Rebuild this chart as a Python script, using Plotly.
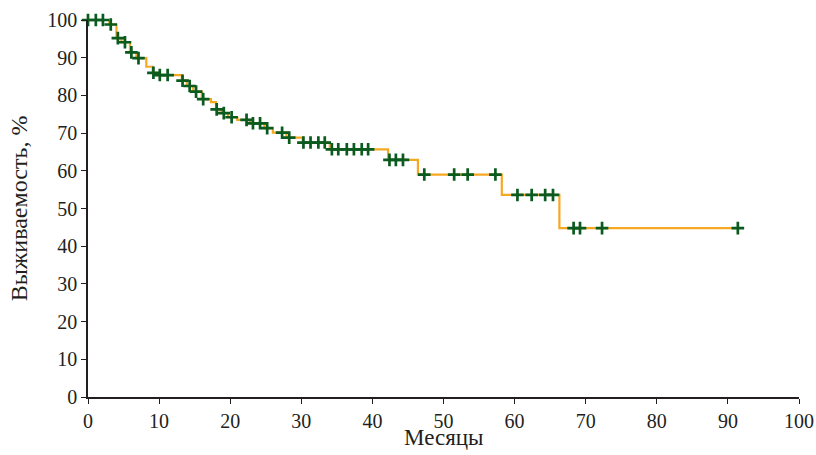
import numpy as np
import plotly.graph_objects as go

# Kaplan-Meier step curve: event times (months) and survival after each step (%)
step_t = [0, 3.0, 4.0, 4.7, 5.9, 6.8, 8.2, 9.1, 9.7, 13.2, 13.9, 14.8, 16.0, 17.3,
          18.0, 18.8, 19.7, 21.0, 22.8, 24.8, 26.0, 27.9, 30.2, 34.0, 42.2, 46.4,
          58.2, 66.3]
step_s = [100, 98.8, 95.2, 94.1, 91.4, 89.9, 87.6, 86.0, 85.4, 83.9, 82.5, 81.0,
          79.0, 78.2, 76.3, 75.3, 74.2, 73.5, 72.6, 71.3, 70.1, 68.8, 67.5, 65.7,
          62.9, 59.0, 53.6, 44.8]
end_t = 91.4

# censored observations (months)
cens_t = [0, 1.1, 2.1, 3.2, 4.2, 5.2, 6.1, 7.1, 9.2, 10.1, 11.2, 13.3, 14.3, 15.2,
          16.2, 18.1, 19.1, 20.2, 22.3, 23.2, 24.2, 25.2, 27.3, 28.3, 30.3, 31.3,
          32.4, 33.3, 34.3, 35.2, 36.4, 37.4, 38.5, 39.4, 42.4, 43.3, 44.3, 47.3,
          51.5, 53.4, 57.3, 60.4, 62.4, 64.3, 65.4, 68.3, 69.2, 72.3, 91.4]

x_ticks = list(range(0, 101, 10))
y_ticks = list(range(0, 101, 10))

line_x = step_t + [end_t]
line_y = step_s + [step_s[-1]]
idx = np.searchsorted(np.array(step_t), np.array(cens_t), side="right") - 1
cens_s = [step_s[i] for i in idx]

FONT = "Liberation Serif, DejaVu Serif, serif"

fig = go.Figure()
fig.add_trace(go.Scatter(x=line_x, y=line_y, mode="lines", line_shape="hv",
                         line=dict(color="#F7A823", width=2.2),
                         cliponaxis=False, showlegend=False, hoverinfo="skip"))
fig.add_trace(go.Scatter(x=cens_t, y=cens_s, mode="markers",
                         marker=dict(symbol="cross-thin", size=9,
                                     line=dict(color="#0B5A1E", width=2.7)),
                         cliponaxis=False, showlegend=False, hoverinfo="skip"))

fig.update_layout(
    width=816, height=455,
    margin=dict(l=88, r=17, t=20, b=58),
    plot_bgcolor="white", paper_bgcolor="white",
    font=dict(family=FONT, size=20, color="#231F20"),
    xaxis=dict(range=[0, 100], tickvals=x_ticks, showline=True, linecolor="#231F20",
               linewidth=1.5, ticks="outside", ticklen=5, tickcolor="#231F20",
               showgrid=False, zeroline=False, automargin=False),
    yaxis=dict(range=[0, 100], tickvals=y_ticks, showline=True, linecolor="#231F20",
               linewidth=1.5, ticks="outside", ticklen=5, tickcolor="#231F20",
               showgrid=False, zeroline=False, automargin=False,
               title=dict(text="Выживаемость, %", standoff=13, font=dict(size=24))),
    annotations=[dict(text="Месяцы", xref="paper", yref="paper", x=0.5, y=-0.108,
                      xanchor="center", yanchor="middle", showarrow=False,
                      font=dict(size=23))],
)

fig.write_html(
    "out.html",
    config={"displayModeBar": False},
    post_script="document.body.style.margin='0';"
                "document.body.style.overflow='hidden';"
                "document.documentElement.style.overflow='hidden';",
)
